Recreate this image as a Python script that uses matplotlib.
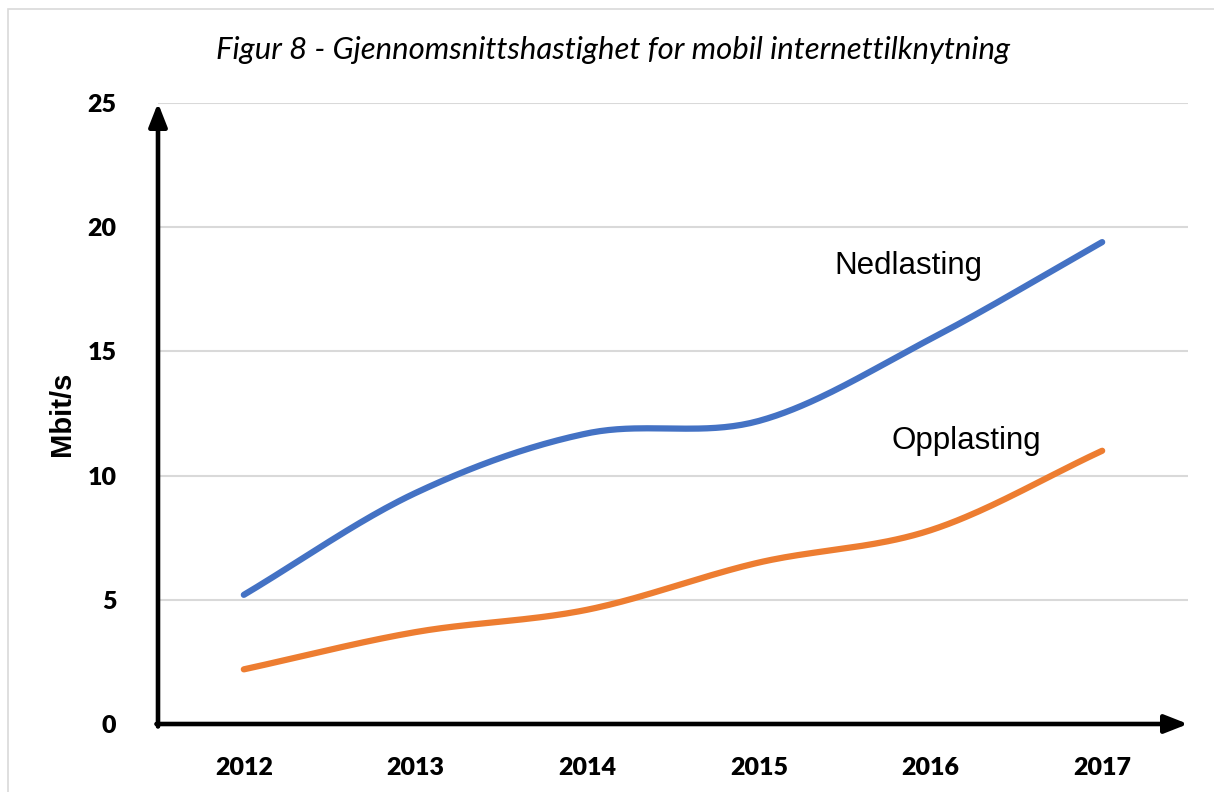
import numpy as np
import matplotlib
matplotlib.use("Agg")
import matplotlib.pyplot as plt
from matplotlib.patches import Rectangle

years = ["2012", "2013", "2014", "2015", "2016", "2017"]
nedlasting = [5.2, 9.3, 11.7, 12.2, 15.5, 19.4]
opplasting = [2.2, 3.7, 4.6, 6.5, 7.8, 11.0]
yticks = [0, 5, 10, 15, 20, 25]
title = "Figur 8 - Gjennomsnittshastighet for mobil internettilknytning"


def smooth(xs, ys, n=40):
    """Catmull-Rom spline through the points (Excel-like smoothed line)."""
    xs = np.asarray(xs, float)
    ys = np.asarray(ys, float)
    px = np.concatenate([[2 * xs[0] - xs[1]], xs, [2 * xs[-1] - xs[-2]]])
    py = np.concatenate([[2 * ys[0] - ys[1]], ys, [2 * ys[-1] - ys[-2]]])
    ox, oy = [], []
    for i in range(1, len(px) - 2):
        t = np.linspace(0, 1, n, endpoint=(i == len(px) - 3))
        for arr, out in ((px, ox), (py, oy)):
            p0, p1, p2, p3 = arr[i - 1], arr[i], arr[i + 1], arr[i + 2]
            out.extend(0.5 * ((2 * p1) + (-p0 + p2) * t
                              + (2 * p0 - 5 * p1 + 4 * p2 - p3) * t ** 2
                              + (-p0 + 3 * p1 - 3 * p2 + p3) * t ** 3))
    return np.array(ox), np.array(oy)


W, H = 1214, 792
fig = plt.figure(figsize=(W / 100, H / 100), dpi=100)
fig.patches.append(Rectangle((8 / W, -0.01), 1.1, 1 - 9 / H + 0.01,
                             transform=fig.transFigure, fill=False,
                             edgecolor="#d9d9d9", linewidth=1.2))

ax = fig.add_axes([158 / W, 1 - 724 / H, (1188 - 158) / W, (724 - 103) / H])
x = np.arange(len(years)) + 0.5
ax.set_xlim(0, len(years))
ax.set_ylim(0, 25)

for yv in yticks[1:]:
    ax.axhline(yv, color="#d9d9d9", linewidth=1.5, zorder=1)

sx, sy = smooth(x, nedlasting)
ax.plot(sx, sy, color="#4472C4", linewidth=4.5, solid_capstyle="round", zorder=3)
sx, sy = smooth(x, opplasting)
ax.plot(sx, sy, color="#ED7D31", linewidth=4.5, solid_capstyle="round", zorder=3)

for s in ax.spines.values():
    s.set_visible(False)

arrow = dict(arrowstyle="-|>,head_length=1.4,head_width=0.55", color="black",
             linewidth=3.3, shrinkA=0, shrinkB=0)
ax.annotate("", xy=(0, 1.0), xytext=(0, -0.004), xycoords="axes fraction",
            arrowprops=arrow, annotation_clip=False)
ax.annotate("", xy=(1.0, 0), xytext=(-0.0015, 0), xycoords="axes fraction",
            arrowprops=arrow, annotation_clip=False)

ax.set_xticks(x)
ax.set_xticklabels(years)
ax.set_yticks(yticks)
ax.set_yticklabels([str(v) for v in yticks])
for lab in ax.get_xticklabels() + ax.get_yticklabels():
    lab.set_fontfamily("Lato")
    lab.set_fontweight("heavy")
    lab.set_fontsize(18)
ax.tick_params(axis="both", length=0)
ax.tick_params(axis="x", pad=24)
ax.tick_params(axis="y", pad=30)

ax.set_ylabel("Mbit/s", fontfamily="Liberation Sans", fontweight="bold",
              fontsize=21)
ax.yaxis.set_label_coords(-(158 - 76) / (1188 - 158), 0.5)

fig.text(613 / W, 1 - 50 / H, title, ha="center", va="center",
         fontfamily="Lato", fontstyle="italic", fontsize=22.4)

ax.text(4.37, 18.45, "Nedlasting", fontfamily="Liberation Sans", fontsize=22.5,
        ha="center", va="center")
ax.text(4.71, 11.4, "Opplasting", fontfamily="Liberation Sans", fontsize=22.5,
        ha="center", va="center")

fig.savefig("out.png", dpi=100)
